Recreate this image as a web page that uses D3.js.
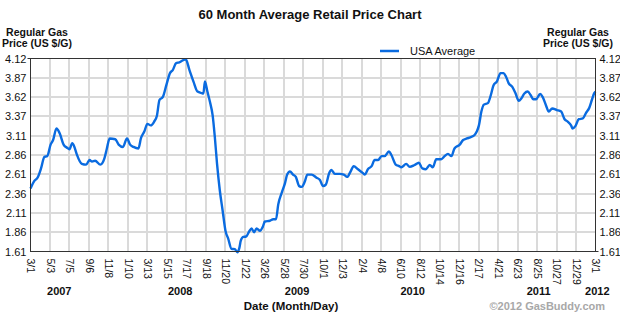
<!DOCTYPE html>
<html><head><meta charset="utf-8">
<script src="https://cdn.jsdelivr.net/npm/d3@7"></script>
<style>body{margin:0;background:#fff}svg{display:block;font-family:"Liberation Sans",Arial,sans-serif}</style>
</head><body><svg id="c" width="620" height="324"></svg>
<script>
const dates = ["2007-03-01","2007-03-12","2007-03-25","2007-04-04","2007-04-15","2007-04-24","2007-05-05","2007-05-13","2007-05-24","2007-06-03","2007-06-16","2007-06-27","2007-07-05","2007-07-14","2007-07-21","2007-07-29","2007-08-14","2007-08-28","2007-09-08","2007-09-16","2007-09-26","2007-10-13","2007-10-26","2007-11-03","2007-11-12","2007-11-30","2007-12-11","2007-12-25","2008-01-07","2008-01-17","2008-01-28","2008-02-13","2008-02-21","2008-03-03","2008-03-13","2008-03-24","2008-04-04","2008-04-13","2008-04-21","2008-05-02","2008-05-13","2008-05-25","2008-06-03","2008-06-14","2008-06-24","2008-07-07","2008-07-15","2008-07-27","2008-08-09","2008-08-22","2008-09-05","2008-09-10","2008-09-15","2008-09-23","2008-10-01","2008-10-10","2008-10-17","2008-10-24","2008-11-02","2008-11-11","2008-11-21","2008-11-29","2008-12-10","2008-12-21","2008-12-29","2009-01-04","2009-01-09","2009-01-17","2009-01-26","2009-02-05","2009-02-13","2009-02-21","2009-03-01","2009-03-12","2009-03-21","2009-03-28","2009-04-13","2009-04-24","2009-05-03","2009-05-10","2009-05-21","2009-06-01","2009-06-08","2009-06-17","2009-06-27","2009-07-06","2009-07-17","2009-07-25","2009-08-04","2009-08-12","2009-08-26","2009-09-11","2009-09-22","2009-10-02","2009-10-11","2009-10-22","2009-10-29","2009-11-09","2009-11-25","2009-12-08","2009-12-19","2009-12-30","2010-01-09","2010-01-23","2010-02-08","2010-02-14","2010-02-24","2010-03-08","2010-03-18","2010-03-29","2010-04-09","2010-04-19","2010-05-03","2010-05-11","2010-05-25","2010-06-05","2010-06-12","2010-06-28","2010-07-09","2010-07-25","2010-08-08","2010-08-19","2010-08-30","2010-09-12","2010-09-22","2010-10-03","2010-10-19","2010-10-30","2010-11-10","2010-11-21","2010-12-01","2010-12-18","2010-12-29","2011-01-10","2011-01-21","2011-02-04","2011-02-11","2011-02-18","2011-02-26","2011-03-06","2011-03-19","2011-03-30","2011-04-06","2011-04-17","2011-04-29","2011-05-09","2011-05-17","2011-05-25","2011-06-06","2011-06-16","2011-06-27","2011-07-05","2011-07-15","2011-07-26","2011-08-04","2011-08-13","2011-08-22","2011-09-04","2011-09-12","2011-09-23","2011-10-02","2011-10-13","2011-10-28","2011-11-11","2011-11-22","2011-12-02","2011-12-13","2011-12-18","2011-12-27","2012-01-07","2012-01-20","2012-01-30","2012-02-10","2012-02-19","2012-02-26","2012-03-01"];
const prices = [2.43,2.52,2.58,2.69,2.84,2.85,3.00,3.06,3.21,3.15,3.00,2.96,2.94,3.02,2.97,2.87,2.75,2.74,2.80,2.78,2.79,2.74,2.82,2.95,3.08,3.07,3.00,2.97,3.08,3.00,2.97,2.95,3.08,3.17,3.27,3.25,3.30,3.38,3.58,3.62,3.77,3.93,3.97,4.06,4.07,4.10,4.11,3.97,3.82,3.69,3.67,3.665,3.82,3.69,3.56,3.38,3.10,2.76,2.41,2.15,1.87,1.78,1.645,1.64,1.60,1.65,1.75,1.80,1.805,1.87,1.91,1.86,1.91,1.88,1.93,2.00,2.01,2.03,2.03,2.22,2.37,2.50,2.61,2.65,2.61,2.58,2.46,2.45,2.52,2.61,2.61,2.57,2.54,2.46,2.48,2.63,2.67,2.62,2.62,2.61,2.58,2.65,2.72,2.68,2.63,2.61,2.68,2.72,2.80,2.80,2.85,2.85,2.91,2.865,2.74,2.72,2.705,2.75,2.71,2.735,2.765,2.69,2.68,2.735,2.705,2.81,2.81,2.85,2.88,2.85,2.95,3.00,3.06,3.08,3.095,3.125,3.17,3.25,3.43,3.52,3.54,3.665,3.77,3.82,3.93,3.93,3.88,3.80,3.75,3.67,3.57,3.60,3.665,3.69,3.645,3.59,3.59,3.66,3.62,3.51,3.43,3.47,3.45,3.43,3.33,3.30,3.25,3.21,3.24,3.33,3.34,3.41,3.48,3.59,3.67,3.69];
const xTickDates = ["2007-03-01","2007-05-03","2007-07-05","2007-09-06","2007-11-08","2008-01-10","2008-03-13","2008-05-15","2008-07-17","2008-09-18","2008-11-20","2009-01-22","2009-03-26","2009-05-28","2009-07-30","2009-10-01","2009-12-03","2010-02-04","2010-04-08","2010-06-10","2010-08-12","2010-10-14","2010-12-16","2011-02-17","2011-04-21","2011-06-23","2011-08-25","2011-10-27","2011-12-29","2012-03-01"];
const xTickLabels = ["3/1","5/3","7/5","9/6","11/8","1/10","3/13","5/15","7/17","9/18","11/20","1/22","3/26","5/28","7/30","10/1","12/3","2/4","4/8","6/10","8/12","10/14","12/16","2/17","4/21","6/23","8/25","10/27","12/29","3/1"];
const yTickLabels = ["1.61","1.86","2.11","2.36","2.61","2.86","3.11","3.37","3.62","3.87","4.12"];
const yearLabels = ["2007","2008","2009","2010","2011","2012"];
const yearLabelDates = ["2007-06-02","2008-06-27","2009-07-10","2010-07-19","2011-08-30","2012-03-07"];
const seriesName = "USA Average";
const title = "60 Month Average Retail Price Chart";

const parse = d3.utcParse("%Y-%m-%d");
const data = dates.map((d,i)=>({date:parse(d), value:prices[i]}));
const svg = d3.select("#c");
const L=30.5, R=595.5, T=58.5, B=251.5;
const x = d3.scaleUtc().domain([parse("2007-03-01"), parse("2012-03-01")]).range([L,R]);
const y = d3.scaleLinear().domain([1.61,4.12]).range([B,T]);
const yTickVals = d3.range(yTickLabels.length).map(i => 1.61 + i*(4.12-1.61)/(yTickLabels.length-1));
const xTicks = xTickDates.map(parse);
const BLUE = "#0a6be0";

// grid
const g = svg.append("g");
g.selectAll("line.v").data(xTicks.slice(1,-1)).join("line")
  .attr("x1",d=>Math.round(x(d))).attr("x2",d=>Math.round(x(d))).attr("y1",T).attr("y2",B)
  .attr("stroke","#dadada").attr("stroke-width",2);
g.selectAll("line.h").data(yTickVals.slice(1,-1)).join("line")
  .attr("y1",d=>Math.round(y(d))).attr("y2",d=>Math.round(y(d))).attr("x1",L).attr("x2",R)
  .attr("stroke","#dadada").attr("stroke-width",2);

// line
const line = d3.line().x(d=>x(d.date)).y(d=>y(d.value)).curve(d3.curveMonotoneX);
svg.append("path").datum(data).attr("d",line).attr("fill","none")
  .attr("stroke",BLUE).attr("stroke-width",2.4).attr("stroke-linejoin","round");

// frame
svg.append("rect").attr("x",L).attr("y",T).attr("width",R-L).attr("height",B-T)
  .attr("fill","none").attr("stroke","#333").attr("stroke-width",1);
svg.append("line").attr("x1",L-3).attr("x2",L).attr("y1",T).attr("y2",T).attr("stroke","#333");
svg.append("line").attr("x1",R).attr("x2",R+3).attr("y1",B).attr("y2",B).attr("stroke","#333");

// y axes
const fmtY = (d,i)=>yTickLabels[i];
const yl = svg.append("g").attr("transform",`translate(${L-4},0)`)
  .call(d3.axisLeft(y).tickValues(yTickVals).tickFormat(fmtY).tickSize(0).tickPadding(0));
const yr = svg.append("g").attr("transform",`translate(${R+4},0)`)
  .call(d3.axisRight(y).tickValues(yTickVals).tickFormat(fmtY).tickSize(0).tickPadding(0));
[yl,yr].forEach(a=>{a.select(".domain").remove();
  a.selectAll("text").attr("font-size",11).attr("fill","#111").attr("font-family","Liberation Sans, Arial, sans-serif");});

// x axis
const xa = svg.append("g").attr("transform",`translate(0,${B})`)
  .call(d3.axisBottom(x).tickValues(xTicks).tickFormat((d,i)=>xTickLabels[i]).tickSize(0));
xa.select(".domain").remove();
xa.selectAll("text").attr("font-size",10.5).attr("fill","#111").attr("font-family","Liberation Sans, Arial, sans-serif")
  .attr("transform","rotate(90)").attr("text-anchor","start").attr("x",7).attr("y",0).attr("dy","0.35em");

// years
svg.append("g").selectAll("text").data(yearLabels).join("text")
  .attr("x",(d,i)=>x(parse(yearLabelDates[i]))).attr("y",295).attr("text-anchor","middle")
  .attr("font-size",11).attr("font-weight","bold").attr("fill","#111").text(d=>d);

// titles
svg.append("text").attr("x",310).attr("y",19).attr("text-anchor","middle")
  .attr("font-size",13).attr("font-weight","bold").attr("fill","#111").text(title);
const axTitle = (cx, anchor) => {
  const t = svg.append("text").attr("text-anchor",anchor).attr("font-size",10.5).attr("font-weight","bold").attr("fill","#111");
  t.append("tspan").attr("x",cx).attr("y",35.5).text("Regular Gas");
  t.append("tspan").attr("x",cx).attr("y",46.5).text("Price (US $/G)");
};
axTitle(37,"middle");
axTitle(578,"middle");
svg.append("text").attr("x",291).attr("y",310).attr("text-anchor","middle")
  .attr("font-size",11.5).attr("font-weight","bold").attr("fill","#111").text("Date (Month/Day)");
svg.append("text").attr("x",605).attr("y",310).attr("text-anchor","end")
  .attr("font-size",11).attr("font-weight","bold").attr("fill","#a8a8a8").text("©2012 GasBuddy.com");

// legend
svg.append("line").attr("x1",380).attr("x2",399).attr("y1",51).attr("y2",51).attr("stroke",BLUE).attr("stroke-width",2.5);
svg.append("text").attr("x",410).attr("y",55).attr("font-size",11).attr("fill","#111").text(seriesName);
</script></body></html>
